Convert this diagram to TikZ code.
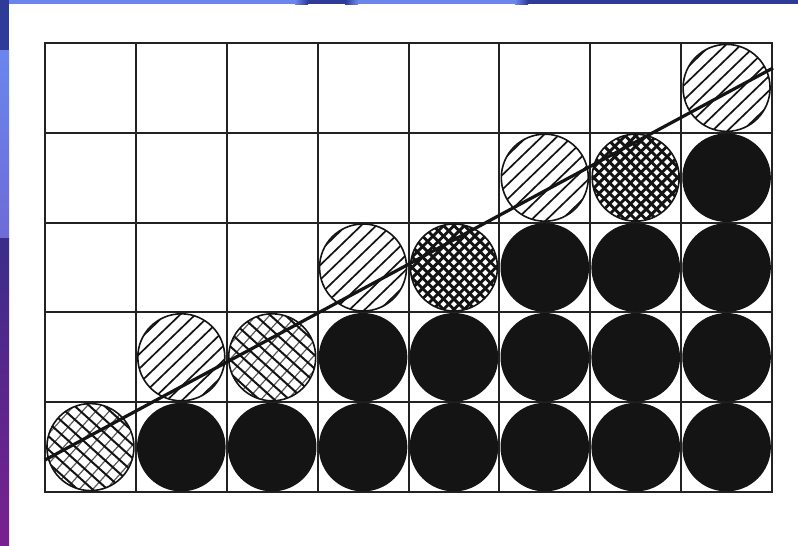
\documentclass[tikz,border=0pt]{standalone}
\usetikzlibrary{calc}
\definecolor{lblue}{HTML}{6A86EE}
\definecolor{dblue}{HTML}{2E3B98}
\definecolor{dpur}{HTML}{3A2D88}
\definecolor{purp}{HTML}{7A2090}
\definecolor{gridc}{HTML}{222222}
\definecolor{ink}{HTML}{141414}
\newcommand\hatchset[4]{% angle, spacing, width, colour
  \foreach \k in {-7,...,7}
    \draw[#4, line width=#3]
      ($(path picture bounding box.center)+(#1+90:{\k*#2})+(#1:52pt)$) --
      ($(path picture bounding box.center)+(#1+90:{\k*#2})+(#1+180:52pt)$);}
\tikzset{
  gridline/.style={draw=gridc, line width=2pt},
  mainline/.style={draw=ink, line width=3.2pt},
  disc/.style={circle, minimum size=87pt, inner sep=0pt, draw=ink, line width=1.6pt},
  blackdisc/.style={disc, fill=ink},
  linedisc/.style={disc, path picture={\hatchset{44}{10.5pt}{1.7pt}{ink}}},
  xdisc/.style={disc, path picture={\hatchset{48}{10pt}{1.2pt}{ink!70}\hatchset{-42}{10pt}{2pt}{ink}}},
  dotdisc/.style={disc, path picture={\hatchset{45}{7.4pt}{2.9pt}{ink}\hatchset{-45}{7.4pt}{2.9pt}{ink}}},
}
\begin{document}
\begin{tikzpicture}[x=1pt,y=-1pt]
\useasboundingbox (0,0) rectangle (798,546);
\fill[white] (0,0) rectangle (798,546);
% slide background strips
\fill[dblue] (0,0) rectangle (9,50);
\shade[top color=lblue, bottom color=lblue!80!violet] (0,50) rectangle (9,238);
\shade[top color=dpur, bottom color=purp] (0,238) rectangle (9,546);
\fill[dblue] (0,0) rectangle (9,4);
\fill[lblue] (9,0) rectangle (798,4);
\shade[left color=lblue, right color=dblue] (295,0) rectangle (308,4);
\fill[dblue] (308,0) rectangle (345,4);
\shade[left color=dblue, right color=lblue] (345,0) rectangle (358,4);
\shade[left color=lblue, right color=dblue] (515,0) rectangle (528,4);
\fill[dblue] (528,0) rectangle (798,4);
% grid
\foreach \i in {1,...,7} \draw[gridline] ({45+\i*90.875},43) -- ({45+\i*90.875},492);
\foreach \j in {1,...,4} \draw[gridline] (45,{43+\j*89.8}) -- (772,{43+\j*89.8});
\draw[gridline] (45,43) rectangle (772,492);
% discs
\begin{scope}[shift={(45,43)}, x=90.875pt, y=-89.8pt]
  \foreach \c/\r in {8/2, 6/3, 7/3, 8/3, 4/4, 5/4, 6/4, 7/4, 8/4,
                     2/5, 3/5, 4/5, 5/5, 6/5, 7/5, 8/5}
    \node[blackdisc] (b-\c-\r) at ({\c-0.5},{\r-0.5}) {};
  \node[linedisc] (h-8-1) at (7.5,0.5) {};
  \node[linedisc] (h-6-2) at (5.5,1.5) {};
  \node[linedisc] (h-4-3) at (3.5,2.5) {};
  \node[linedisc] (h-2-4) at (1.5,3.5) {};
  \node[dotdisc] (d-7-2) at (6.5,1.5) {};
  \node[dotdisc] (d-5-3) at (4.5,2.5) {};
  \node[xdisc] (x-3-4) at (2.5,3.5) {};
  \node[xdisc] (x-1-5) at (0.5,4.5) {};
\end{scope}
% trend line
\coordinate (ls) at (45,460);
\coordinate (le) at (773,68);
\draw[mainline] (ls) -- (le);
\end{tikzpicture}
\end{document}
